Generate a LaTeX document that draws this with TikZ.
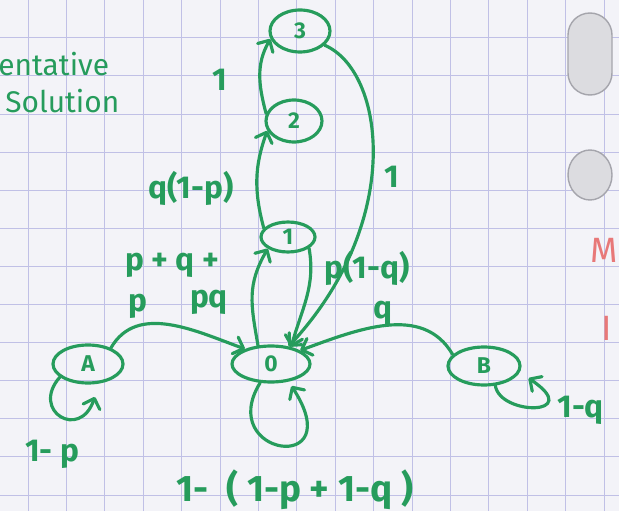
\documentclass[tikz,border=0pt]{standalone}
\usepackage{fontspec}
\setmainfont{Fira Sans}
\usetikzlibrary{shapes.geometric,arrows.meta}
\definecolor{ink}{RGB}{38,156,92}
\definecolor{gridc}{RGB}{192,192,230}
\definecolor{paper}{RGB}{243,243,248}
\definecolor{redink}{RGB}{232,120,120}
\definecolor{hole}{RGB}{220,220,224}
\definecolor{holeedge}{RGB}{165,165,172}
\begin{document}
\begin{tikzpicture}[x=0.02cm,y=0.02cm,
  state/.style={ellipse,draw=ink,line width=1.8pt,inner sep=0pt,text=ink,font=\fontsize{13}{13}\selectfont\bfseries},
  link/.style={draw=ink,line width=1.8pt,line cap=round,-{Straight Barb[length=5pt,width=10pt,round]}},
  loopline/.style={link,shorten >=3pt},
  lbl/.style={text=ink,inner sep=0pt,font=\fontsize{18}{20}\selectfont\bfseries},
  biglbl/.style={text=ink,inner sep=0pt,font=\fontsize{21}{23}\selectfont\bfseries},
  note/.style={text=ink,inner sep=0pt,font=\fontsize{17}{19}\selectfont},
  redmark/.style={text=redink,inner sep=0pt,font=\fontsize{20}{22}\selectfont},
  gridline/.style={draw=gridc,line width=0.5pt},
  punch/.style={fill=hole,draw=holeedge,line width=0.8pt}
]
\useasboundingbox (0,0) rectangle (619,511);
\fill[paper] (0,0) rectangle (619,511);
% grid paper
\foreach \k in {0,...,15} \draw[gridline] ({28+38.4*\k},0) -- ({28+38.4*\k},511);
\foreach \k in {0,...,13} \draw[gridline] (0,{16+38.1*\k}) -- (619,{16+38.1*\k});
% punched holes
\draw[punch] (612,476) arc (0:180:22) -- ++(0,-38) arc (180:360:22) -- cycle;
\draw[punch] (590,336) circle [x radius=22,y radius=25];

% title text (cut at left edge)
\node[note,anchor=west] (t1) at (-2,447) {entative};
\node[note,anchor=west] (t2) at (5,410) {Solution};

% red marks at right edge
\node[redmark,anchor=east] (m1) at (618,261) {M};
\node[redmark,anchor=west] (m2) at (601,183) {I};

% states
\node[state,minimum width=1.4cm,minimum height=0.76cm] (A) at (88,147) {A};
\node[state,minimum width=1.56cm,minimum height=0.72cm] (Z) at (271,147) {0};
\node[state,minimum width=1.44cm,minimum height=0.76cm] (B) at (484,145) {B};
\node[state,minimum width=1.08cm,minimum height=0.6cm] (N1) at (288,274) {1};
\node[state,minimum width=1.12cm,minimum height=0.84cm] (N2) at (294,390) {2};
\node[state,minimum width=1.2cm,minimum height=0.84cm] (N3) at (300,480) {3};

% transitions
\draw[link] (A.35) to[out=60,in=160] (Z.150);
\draw[link] (B.160) to[out=120,in=20] (Z.25);
\draw[link] (Z.125) to[out=100,in=240,looseness=1.1] (N1.210);
\draw[link] (N1.-28) to[out=-80,in=75] (Z.40);
\draw[link] (N1.160) to[out=105,in=250] (N2.200);
\draw[link] (N2.165) to[out=105,in=240] (N3.195);
\draw[link] (N3.-30) .. controls (385,440) and (405,290) .. (Z.45);

% self loops
\draw[loopline,shorten >=8pt] (A.205) .. controls (30,100) and (80,70) .. (A.-60);
\draw[loopline] (Z.240) .. controls (215,55) and (350,35) .. (Z.-45);
\draw[loopline,shorten >=6pt] (B.-60) .. controls (500,95) and (585,95) .. (B.-10);

% labels
\node[lbl] (lp) at (138,205) {p};
\node[lbl] (lq) at (383,198) {q};
\node[lbl] (lpq1) at (172,246) {p + q +};
\node[lbl] (lpq2) at (209,209) {pq};
\node[lbl] (lp1q) at (367,243) {p(1-q)};
\node[lbl] (lq1p) at (191,323) {q(1-p)};
\node[lbl] (l23) at (220,431) {1};
\node[lbl] (l30) at (392,334) {1};
\node[lbl] (lA) at (52,57) {1- p};
\node[lbl,anchor=west] (lB) at (557,101) {1-q};
\node[biglbl] (lZ) at (295,21) {1-\ \ (\ 1-p\ +\ 1-q\ )};
\end{tikzpicture}
\end{document}
